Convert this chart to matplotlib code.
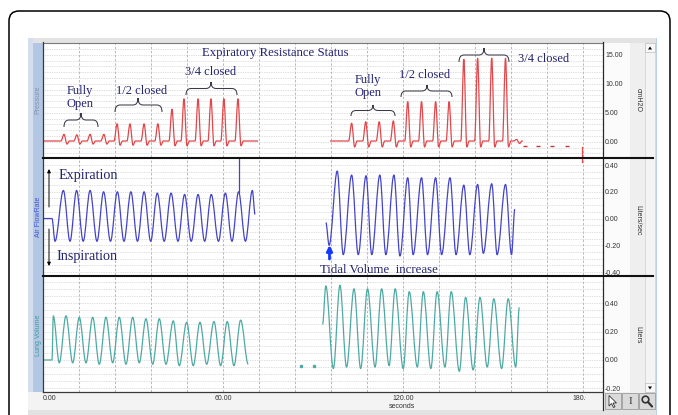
import matplotlib
matplotlib.use("Agg")
import matplotlib.pyplot as plt
from matplotlib.path import Path
from matplotlib.patches import PathPatch, Rectangle, FancyBboxPatch, Polygon, Circle
import matplotlib.transforms as mtransforms
from matplotlib.ticker import MultipleLocator

plt.rcParams['font.family'] = ['Liberation Sans', 'DejaVu Sans']

# ------------------------------------------------------------------ data
x_tick_values = [0, 60, 120, 180]
x_tick_labels = ["0.00", "60.00", "120.00", "180.00"]
x_label = "seconds"

channel_names = ["Pressure", "Air FlowRate", "Lung Volume"]
channel_units = ["cmH2O", "Liters/sec", "Liters"]

pressure_ticks = [0, 5, 10, 15]
pressure_tick_labels = ["0.00", "5.00", "10.00", "15.00"]
flow_ticks = [-0.4, -0.2, 0.0, 0.2, 0.4]
flow_tick_labels = ["-0.40", "-0.20", "0.00", "0.20", "0.40"]
volume_ticks = [-0.2, 0.0, 0.2, 0.4]
volume_tick_labels = ["-0.20", "0.00", "0.20", "0.40"]

# Pressure (cmH2O)
p_baseline = 0.13
p1_span = [0.0, 71.7]
p1_peak_t = [7.0, 11.3, 15.7, 20.3, 24.7, 29.0, 33.7, 38.3, 43.0, 47.0, 51.7, 56.0, 60.3, 65.0]
p1_peak_v = [1.28, 1.2, 1.28, 1.28, 3.1, 3.1, 3.1, 3.1, 5.6, 7.4, 7.4, 7.4, 7.4, 7.4]
p1_dip_v = [-0.4, -0.4, -0.4, -0.4, -0.6, -0.6, -0.6, -0.6, -0.7, -0.7, -0.7, -0.7, -0.7, -0.7]
p2_span = [95.7, 160.0]
p2_peak_t = [102.9, 107.6, 112.1, 116.8, 121.6, 126.2, 130.9, 135.4, 140.3, 144.9, 149.6, 154.2, 157.9]
p2_peak_v = [3.2, 3.45, 3.45, 3.6, 6.9, 6.9, 6.9, 6.9, 14.2, 14.4, 14.4, 14.4, 0.4]
p2_dip_v = [-0.9, -0.9, -0.9, -0.9, -0.9, -0.9, -0.9, -0.9, -0.9, -0.9, -0.9, -0.9, -0.3]
p_marks_t = [160.7, 165.0, 169.7, 174.7]
p_marks_v = [-0.8, -0.8, -0.8, -0.8]
p_event_t = 179.8
p_event_v = -0.9

# Air flow (L/s)
f1_flat = [0.0, 3.0]
f1_trough_t = [4.0, 9.0, 13.4, 18.0, 22.5, 27.0, 31.5, 35.9, 40.4, 45.0, 49.4, 53.9, 58.5, 63.0, 67.5]
f1_trough_v = [-0.17, -0.17, -0.17, -0.17, -0.17, -0.17, -0.17, -0.17, -0.17, -0.17, -0.17, -0.17, -0.17, -0.17, -0.17]
f1_peak_t = [6.8, 11.2, 15.7, 20.2, 24.8, 29.3, 33.7, 38.1, 42.7, 47.2, 51.7, 56.1, 60.8, 65.2, 69.8]
f1_peak_v = [0.21, 0.21, 0.21, 0.2, 0.2, 0.2, 0.2, 0.19, 0.19, 0.18, 0.18, 0.18, 0.19, 0.2, 0.21]
f1_end = (70.7, 0.03)
f1_spike_t = 65.2
f1_spike_v = 0.6
f2_start = (94.3, -0.03)
f2_first_trough = (95.4, -0.2)
f2_peak_t = [98.1, 102.9, 107.7, 112.3, 117.0, 121.6, 126.2, 130.9, 135.7, 140.3, 144.9, 149.6, 154.2]
f2_peak_v = [0.355, 0.325, 0.32, 0.325, 0.325, 0.305, 0.305, 0.305, 0.305, 0.25, 0.255, 0.26, 0.255]
f2_trough_t = [100.1, 105.1, 109.6, 114.3, 119.0, 123.4, 128.2, 132.9, 137.7, 142.3, 146.8, 151.4, 156.2]
f2_trough_v = [-0.27, -0.27, -0.27, -0.27, -0.28, -0.27, -0.27, -0.27, -0.27, -0.27, -0.26, -0.27, -0.27]
f2_end = (157.3, 0.07)

# Lung volume (L)
v1_flat = [0.0, 3.0]
v1_peak_t = [3.43, 7.67, 12.1, 16.57, 21.0, 25.43, 29.9, 34.33, 38.77, 43.43, 47.9, 52.33, 57.0, 61.43, 65.9]
v1_peak_v = [0.31, 0.31, 0.30, 0.30, 0.30, 0.30, 0.30, 0.29, 0.29, 0.275, 0.265, 0.265, 0.27, 0.27, 0.28]
v1_trough_t = [5.43, 9.9, 14.33, 18.77, 23.23, 27.67, 32.1, 36.57, 41.0, 45.43, 50.1, 54.57, 59.23, 63.67, 68.43]
v1_trough_v = [-0.02, -0.02, -0.02, -0.03, -0.02, -0.03, -0.02, -0.03, -0.03, -0.04, -0.04, -0.03, -0.04, -0.04, -0.03]
v_dots_t = [86.0, 90.3]
v_dots_v = [-0.04, -0.04]
v2_start = (93.2, 0.25)
v2_peak_t = [94.3, 99.0, 103.7, 108.2, 112.9, 117.4, 122.1, 126.8, 131.4, 136.1, 140.9, 145.7, 150.3, 155.1]
v2_peak_v = [0.52, 0.525, 0.50, 0.50, 0.50, 0.50, 0.48, 0.48, 0.48, 0.48, 0.44, 0.44, 0.43, 0.43]
v2_trough_t = [96.8, 101.2, 105.9, 110.7, 115.4, 120.1, 124.8, 129.3, 134.0, 138.8, 143.4, 148.1, 152.9, 157.6]
v2_trough_v = [-0.06, -0.05, -0.06, -0.05, -0.04, -0.06, -0.05, -0.06, -0.05, -0.08, -0.07, -0.05, -0.06, -0.05]
v2_end = (158.8, 0.37)

# ------------------------------------------------------------------ style
W, H = 678, 415
C_P, C_F, C_V = '#e2474b', '#4444c8', '#4fa9a3'
C_NOTE = '#23236e'
SERIF = ['Liberation Serif', 'DejaVu Serif']
T_MAX = 186.7
X0, X1 = 43, 603

fig = plt.figure(figsize=(W / 100, H / 100), dpi=100)
fig.patch.set_facecolor('white')

bg = fig.add_axes([0, 0, 1, 1], zorder=0)
bg.set_xlim(0, W); bg.set_ylim(H, 0); bg.axis('off')


def rect(ax, x, y, w, h, fc, ec='none', lw=0.0, z=1):
    ax.add_patch(Rectangle((x, y), w, h, facecolor=fc, edgecolor=ec, linewidth=lw, zorder=z))


bg.add_patch(FancyBboxPatch((9, 11), 661, 440, boxstyle="round,pad=0,rounding_size=10",
                            fc='white', ec='black', lw=1.1, zorder=0))
rect(bg, 28, 38, 628, 377, '#f0f0f0')
rect(bg, 28, 38, 628, 5, '#e3e3e3')
rect(bg, 28, 38, 5, 354, '#d3deee')
rect(bg, 33, 43, 10, 349, '#b3c6e3')
rect(bg, 603, 43, 42, 349, '#fbfbfb')
rect(bg, 630, 43, 15, 349, '#efefef')
rect(bg, 645, 43, 10, 349, '#f4f4f4', ec='#cfcfcf', lw=0.5)
rect(bg, 645, 43, 10, 9, '#f8f8f8', ec='#bdbdbd', lw=0.5)
rect(bg, 645, 383, 10, 9, '#f8f8f8', ec='#bdbdbd', lw=0.5)
bg.add_patch(Polygon([[648, 49.5], [652, 49.5], [650, 46.5]], closed=True, fc='black', zorder=2))
bg.add_patch(Polygon([[648, 386.5], [652, 386.5], [650, 389.5]], closed=True, fc='black', zorder=2))
rect(bg, 28, 392, 575, 18, '#f3f3f3')
rect(bg, 28, 410, 628, 5, '#e2e2e2')
rect(bg, 656, 38, 1.2, 377, '#bcd0ea')
for bx in (605, 622, 639):
    rect(bg, bx, 393, 16, 16, '#dadada', ec='#9a9a9a', lw=0.6, z=2)
bg.add_patch(Polygon([[609, 395.5], [609, 406], [611.5, 403.5], [613.5, 407.5], [615, 406.8],
                      [613, 403], [616.5, 403]], closed=True, fc='white', ec='#333333', lw=0.6, zorder=3))
bg.text(630, 401, "I", ha='center', va='center', fontsize=8, family=SERIF, color='#333333', zorder=3)
bg.add_patch(Circle((645.5, 399.5), 3.3, fc='none', ec='#333333', lw=1.2, zorder=3))
bg.plot([648, 652], [402, 406.5], color='#333333', lw=1.6, zorder=3, solid_capstyle='round')


def panel(ytop, ybot, ticks, labels, minor_step, ylim):
    ax = fig.add_axes([X0 / W, 1 - ybot / H, (X1 - X0) / W, (ybot - ytop) / H], zorder=2)
    ax.set_facecolor('white')
    ax.set_xlim(0, T_MAX)
    ax.set_ylim(*ylim)
    for s in ax.spines.values():
        s.set_visible(False)
    ax.xaxis.set_major_locator(MultipleLocator(12))
    ax.tick_params(axis='x', which='both', length=0, labelbottom=False)
    ax.grid(True, axis='x', which='major', color='#b0b0b0', lw=0.6, ls=(0, (3, 2)))
    ax.yaxis.tick_right()
    ax.set_yticks(ticks, labels)
    ax.yaxis.set_minor_locator(MultipleLocator(minor_step))
    ax.tick_params(axis='y', which='both', length=0, pad=1.5, labelsize=5.0, labelcolor='#333333')
    ax.grid(True, axis='y', which='both', color='#c0c0c0', lw=0.5, ls=(0, (1, 1.5)))
    return ax


ax_p = panel(43, 157, pressure_ticks, pressure_tick_labels, 1.0, (-2.63, 17.03))
ax_f = panel(159, 275, flow_ticks, flow_tick_labels, 0.05, (-0.422, 0.445))
ax_v = panel(277, 392, volume_ticks, volume_tick_labels, 0.05, (-0.225, 0.583))


def smooth(ax, ts, vs, color, k=0.4, lw=0.9):
    verts = [(ts[0], vs[0])]
    codes = [Path.MOVETO]
    for t0, v0, t1, v1 in zip(ts[:-1], vs[:-1], ts[1:], vs[1:]):
        dt = t1 - t0
        verts += [(t0 + k * dt, v0), (t1 - k * dt, v1), (t1, v1)]
        codes += [Path.CURVE4] * 3
    ax.add_patch(PathPatch(Path(verts, codes), fc='none', ec=color, lw=lw, zorder=3,
                           joinstyle='round'))


def interleave(a_t, a_v, b_t, b_v):
    ts, vs = [], []
    for ta, va, tb, vb in zip(a_t, a_v, b_t, b_v):
        ts += [ta, tb]
        vs += [va, vb]
    return ts, vs


# pressure traces
RISE, FALL, REC = 1.0, 1.0, 0.8
for span, pt, pv, dv in ((p1_span, p1_peak_t, p1_peak_v, p1_dip_v),
                         (p2_span, p2_peak_t, p2_peak_v, p2_dip_v)):
    ts, vs = [span[0]], [p_baseline]
    for tp, hp, dp in zip(pt, pv, dv):
        ts += [tp - RISE, tp, tp + FALL, tp + FALL + REC]
        vs += [p_baseline, hp, dp, p_baseline]
    ts.append(span[1]); vs.append(p_baseline)
    smooth(ax_p, ts, vs, C_P, k=0.35)
ax_p.plot(p_marks_t, p_marks_v, ls='none', marker='_', ms=3, mew=1.0, color='#c03838', zorder=3)
ax_p.plot([p_event_t, p_event_t], [p_event_v, -5], color=C_P, lw=0.9, zorder=3)
ax_f.plot([p_event_t, p_event_t], [0.42, 0.5], color=C_P, lw=0.9, zorder=3)

# flow traces
ts, vs = interleave(f1_trough_t, f1_trough_v, f1_peak_t, f1_peak_v)
smooth(ax_f, f1_flat + ts + [f1_end[0]], [0.0, 0.0] + vs + [f1_end[1]], C_F, k=0.35)
ax_f.plot([f1_spike_t, f1_spike_t], [f1_peak_v[f1_peak_t.index(f1_spike_t)], f1_spike_v],
          color=C_F, lw=0.9, zorder=3)
ts, vs = interleave(f2_peak_t, f2_peak_v, f2_trough_t, f2_trough_v)
smooth(ax_f, [f2_start[0], f2_first_trough[0]] + ts + [f2_end[0]],
       [f2_start[1], f2_first_trough[1]] + vs + [f2_end[1]], C_F, k=0.35)

# volume traces
ts, vs = interleave(v1_peak_t, v1_peak_v, v1_trough_t, v1_trough_v)
smooth(ax_v, v1_flat + ts, [0.0, 0.0] + vs, C_V, k=0.35)
ax_v.plot(v_dots_t, v_dots_v, ls='none', marker='s', ms=1.4, color=C_V, zorder=3)
ts, vs = interleave(v2_peak_t, v2_peak_v, v2_trough_t, v2_trough_v)
smooth(ax_v, [v2_start[0]] + ts + [v2_end[0]], [v2_start[1]] + vs + [v2_end[1]], C_V, k=0.35)

# ------------------------------------------------------------------ overlay
ov = fig.add_axes([0, 0, 1, 1], zorder=4)
ov.set_xlim(0, W); ov.set_ylim(H, 0); ov.axis('off')

ov.plot([43, 603], [42.8, 42.8], color='#7a7a7a', lw=0.8)
ov.plot([43, 43], [42.5, 392], color='#3a3a3a', lw=0.9)
ov.plot([603, 603], [42.5, 410], color='#2a2a2a', lw=0.9)
ov.plot([43, 603], [392, 392], color='#3a3a3a', lw=0.9)
for yy in (158, 276):
    ov.plot([43, 653], [yy, yy], color='#111111', lw=1.5)

# channel names and units
for name, col, yc in zip(channel_names, ['#8393aa', '#4055d0', '#3d9e9a'], [100, 217, 335]):
    ov.text(38, yc, name, rotation=90, ha='center', va='center', fontsize=5.0, color=col)
for unit, yc in zip(channel_units, [100, 220, 335]):
    ov.text(638, yc, unit, rotation=270, ha='center', va='center', fontsize=5.0, color='#333333')

# x tick labels (clipped like the window)
xt_tr = mtransforms.blended_transform_factory(ax_v.transData, ov.transData)
clip = mtransforms.Bbox.from_extents(28, H - 410, 586, H - 392)
for v, lab in zip(x_tick_values, x_tick_labels):
    ha = 'left' if v == x_tick_values[0] else 'center'
    t = ov.text(v, 398.5, lab, transform=xt_tr, ha=ha, va='center', fontsize=5.0, color='#333333')
    t.set_clip_box(clip)
    t.set_clip_on(True)
ov.text(402, 406.5, x_label, ha='center', va='center', fontsize=5.0, color='#333333')


def brace(x0, x1, xt, yt, ya, r=5):
    ym = (yt + ya) / 2
    verts = [(x0, ya), (x0, ym), (x0 + r, ym), (xt - r, ym), (xt, ym), (xt, yt),
             (xt, ym), (xt + r, ym), (x1 - r, ym), (x1, ym), (x1, ya)]
    codes = [Path.MOVETO, Path.CURVE3, Path.CURVE3, Path.LINETO, Path.CURVE3, Path.CURVE3,
             Path.CURVE3, Path.CURVE3, Path.LINETO, Path.CURVE3, Path.CURVE3]
    ov.add_patch(PathPatch(Path(verts, codes), fc='none', ec='#3a3a4a', lw=0.75))


def note(x, y, s, size=9.0, ha='center'):
    ov.text(x, y, s, ha=ha, va='center', fontsize=size, family=SERIF, color=C_NOTE)


note(275, 53, "Expiratory Resistance Status", 9.2)
note(80, 91, "Fully"); note(80, 104, "Open")
note(142, 91, "1/2 closed")
note(211, 72, "3/4 closed")
note(368, 80, "Fully"); note(368, 93, "Open")
note(425, 75, "1/2 closed")
note(544, 59, "3/4 closed")
brace(64, 98, 81, 113, 127)
brace(115, 162, 138, 98, 112)
brace(186, 237, 211, 82, 95)
brace(351, 395, 373, 105, 116)
brace(401, 452, 427, 85, 97)
brace(459, 509, 484, 48, 62)

note(59, 175.5, "Expiration", 10.2, ha='left')
note(56, 256, "Inspiration", 10.2, ha='left')
note(320, 269.5, "Tidal Volume  increase", 9.3, ha='left')
ov.annotate('', xy=(49, 169), xytext=(49, 207),
            arrowprops=dict(arrowstyle='-|>', color='black', lw=0.7, mutation_scale=5, shrinkA=0, shrinkB=0))
ov.annotate('', xy=(49, 266), xytext=(49, 229),
            arrowprops=dict(arrowstyle='-|>', color='black', lw=0.7, mutation_scale=5, shrinkA=0, shrinkB=0))
ov.annotate('', xy=(329.5, 245), xytext=(329.5, 259),
            arrowprops=dict(arrowstyle='-|>', color='#1538ff', lw=2.0, mutation_scale=8, shrinkA=0, shrinkB=0))

fig.savefig('out.png', dpi=100, facecolor='white')
